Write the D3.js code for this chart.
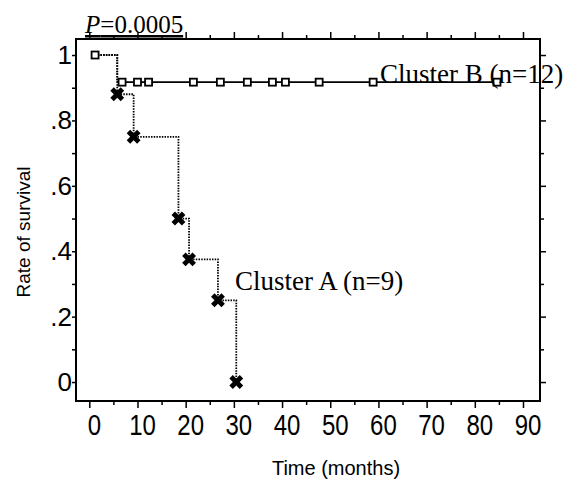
<!DOCTYPE html>
<html>
<head>
<meta charset="utf-8">
<script src="https://cdn.jsdelivr.net/npm/d3@7"></script>
<style>
  body { margin: 0; background: #fff; }
  svg { display: block; }
</style>
</head>
<body>
<svg id="chart" width="582" height="483"></svg>
<script>
// Cluster A (n=9): event times and survival after each event
const timeA = [5.8, 9.2, 18.5, 20.7, 26.7, 30.5];
const survA = [0.88, 0.75, 0.5, 0.375, 0.25, 0];

// Cluster B (n=12): one event, then censored cases
const timeB = [5.8];
const survB = [0.917];
const censorB = [6.8, 10.0, 12.3, 21.6, 27.2, 32.8, 38.0, 40.7, 47.7, 58.9, 84.6];
const startTime = 1.2;

const xTicks = [0, 10, 20, 30, 40, 50, 60, 70, 80, 90];
const yTicks = [0, 0.2, 0.4, 0.6, 0.8, 1];
const yTickLabels = ['0', '.2', '.4', '.6', '.8', '1'];

let svg = d3.select('#chart');

let x = d3.scaleLinear().domain([-2.76, 93.53]).range([76, 540]);
let y = d3.scaleLinear().domain([-0.058, 1.049]).range([401, 39]);

// ticks on all four sides, pointing outward
let minorX = d3.range(0, 95, 5);
let minorY = d3.range(0, 1.05, 0.1);

svg.append('g')
    .attr('transform', 'translate(0,401)')
    .call(d3.axisBottom(x).tickValues(minorX).tickSize(0).tickFormat(''))
    .call(g => g.select('.domain').remove())
    .selectAll('.tick line')
      .attr('y2', d => d % 10 === 0 ? 7 : 4)
      .attr('stroke', '#000').attr('stroke-width', 1.5);

svg.append('g')
    .attr('transform', 'translate(0,39)')
    .call(d3.axisTop(x).tickValues(minorX).tickSize(0).tickFormat(''))
    .call(g => g.select('.domain').remove())
    .selectAll('.tick line')
      .attr('y2', d => d % 10 === 0 ? -7 : -4)
      .attr('stroke', '#000').attr('stroke-width', 1.5);

svg.append('g')
    .attr('transform', 'translate(76,0)')
    .call(d3.axisLeft(y).tickValues(minorY).tickSize(4).tickFormat(''))
    .call(g => g.select('.domain').remove())
    .selectAll('.tick line')
      .attr('stroke', '#000').attr('stroke-width', 1.5);

svg.append('g')
    .attr('transform', 'translate(540,0)')
    .call(d3.axisRight(y).tickValues(minorY).tickSize(0).tickFormat(''))
    .call(g => g.select('.domain').remove())
    .selectAll('.tick line')
      .attr('x2', (d, i) => i % 2 === 0 ? 6 : 4)
      .attr('stroke', '#000').attr('stroke-width', 1.5);

// tick labels
svg.append('g')
    .selectAll('text')
    .data(xTicks)
    .enter()
    .append('text')
      .attr('transform', d => 'translate(' + (x(d) + 5) + ',435) scale(0.8,1)')
      .attr('text-anchor', 'middle')
      .style('font-family', '"Liberation Sans", Arial, sans-serif')
      .style('font-size', '30px')
      .text(d => d);

svg.append('g')
    .selectAll('text')
    .data(yTicks)
    .enter()
    .append('text')
      .attr('x', 72)
      .attr('y', d => y(d) + 9)
      .attr('text-anchor', 'end')
      .style('font-family', '"Liberation Sans", Arial, sans-serif')
      .style('font-size', '26px')
      .text((d, i) => yTickLabels[i]);

// frame
svg.append('rect')
    .attr('x', 76).attr('y', 39)
    .attr('width', 464).attr('height', 362)
    .attr('fill', 'none')
    .attr('stroke', '#000')
    .attr('stroke-width', 2);

// survival curves
let step = d3.line()
    .x(d => x(d[0]))
    .y(d => y(d[1]))
    .curve(d3.curveStepAfter);

let ptsA = [[startTime, 1]].concat(timeA.map((t, i) => [t, survA[i]]));
svg.append('path')
    .attr('d', step(ptsA))
    .attr('fill', 'none')
    .attr('stroke', '#000')
    .attr('stroke-width', 1.8)
    .attr('stroke-dasharray', '1.5,1.2');

let ptsB = [[startTime, 1], [timeB[0], survB[0]]];
svg.append('path')
    .attr('d', step(ptsB))
    .attr('fill', 'none')
    .attr('stroke', '#000')
    .attr('stroke-width', 1.8)
    .attr('stroke-dasharray', '1.5,1.2');

svg.append('line')
    .attr('x1', x(timeB[0])).attr('x2', x(d3.max(censorB)))
    .attr('y1', y(survB[0])).attr('y2', y(survB[0]))
    .attr('stroke', '#000')
    .attr('stroke-width', 1.8);

// censor marks for cluster B
let sq = 7;
svg.append('g')
    .selectAll('rect')
    .data([startTime].concat(censorB))
    .enter()
    .append('rect')
      .attr('x', d => x(d) - sq / 2)
      .attr('y', (d, i) => (i === 0 ? y(1) : y(survB[0])) - sq / 2)
      .attr('width', sq).attr('height', sq)
      .attr('fill', '#fff')
      .attr('stroke', '#000')
      .attr('stroke-width', 1.8);

// event marks for cluster A
svg.append('g')
    .selectAll('path')
    .data(timeA)
    .enter()
    .append('path')
      .attr('d', d3.symbol().type(d3.symbolCross).size(120))
      .attr('transform', (d, i) => 'translate(' + x(d) + ',' + y(survA[i]) + ') rotate(45)')
      .attr('fill', '#000');

// labels
svg.append('text')
    .attr('x', 380).attr('y', 83)
    .style('font-family', '"Liberation Serif", "Times New Roman", serif')
    .style('font-size', '27px')
    .text('Cluster B (n=12)');

svg.append('text')
    .attr('x', 235).attr('y', 290)
    .style('font-family', '"Liberation Serif", "Times New Roman", serif')
    .style('font-size', '27px')
    .text('Cluster A (n=9)');

let p = svg.append('text')
    .attr('x', 85).attr('y', 33)
    .style('font-family', '"Liberation Serif", "Times New Roman", serif')
    .style('font-size', '25px')
    .style('text-decoration', 'underline');
p.append('tspan').style('font-style', 'italic').text('P');
p.append('tspan').text('=0.0005');

// axis titles
svg.append('text')
    .attr('x', 336).attr('y', 475)
    .attr('text-anchor', 'middle')
    .style('font-family', '"Liberation Sans", Arial, sans-serif')
    .style('font-size', '20px')
    .text('Time (months)');

svg.append('text')
    .attr('transform', 'translate(30,232) rotate(-90)')
    .attr('text-anchor', 'middle')
    .style('font-family', '"Liberation Sans", Arial, sans-serif')
    .style('font-size', '19px')
    .text('Rate of survival');
</script>
</body>
</html>
